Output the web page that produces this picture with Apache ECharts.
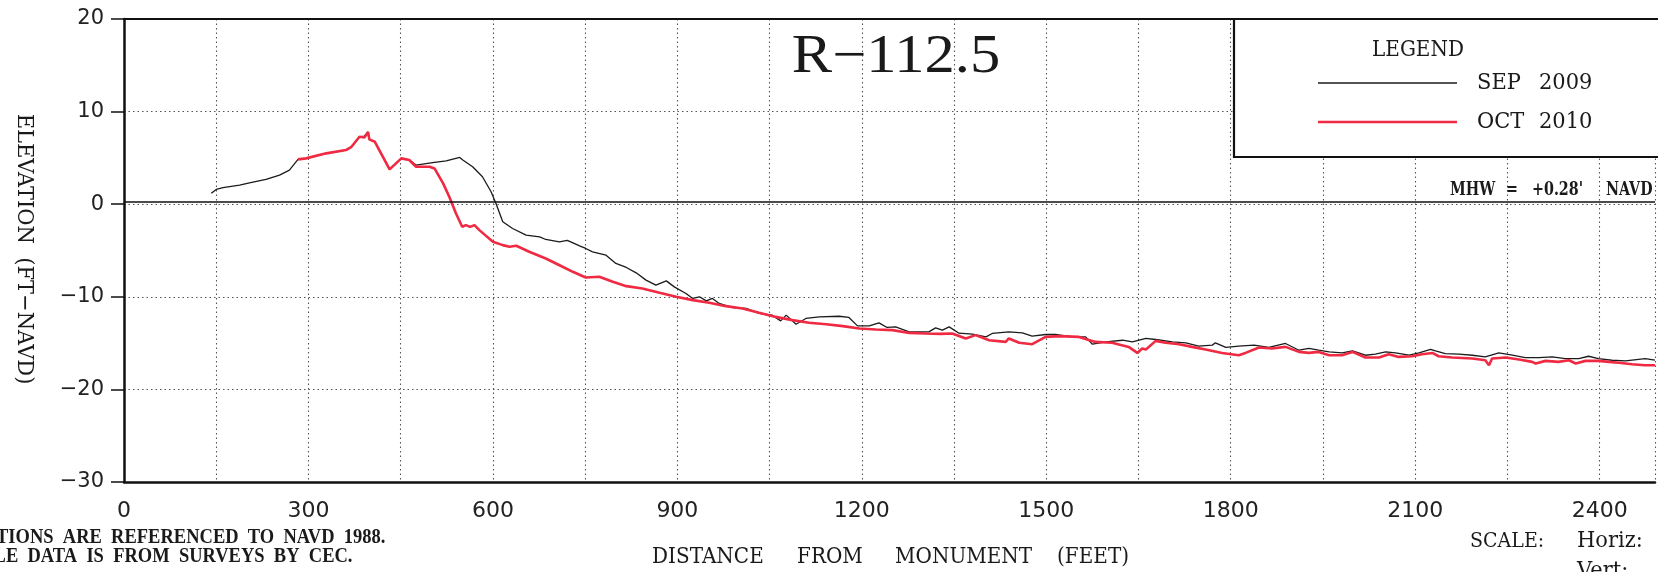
<!DOCTYPE html>
<html><head><meta charset="utf-8">
<script src="https://cdn.jsdelivr.net/npm/echarts@6/dist/echarts.min.js"></script>
<style>html,body{margin:0;padding:0;background:#fff}#c{width:1658px;height:572px}</style>
</head><body><div id="c"></div>
<script>
// ---- data ----
const sep2009Dist = [142,150,161,188,204,231,253,269,283,296,329,361,370,383,391,397,399,408,432,451,464,475,502,524,546,551,567,583,597,605,616,632,654,676,686,708,721,741,751,762,784,800,817,833,849,865,882,895,914,925,936,947,957,968,990,1012,1033,1054,1068,1077,1093,1109,1131,1163,1179,1193,1212,1228,1241,1255,1277,1309,1320,1331,1342,1358,1380,1402,1412,1439,1461,1477,1499,1515,1542,1564,1575,1597,1624,1640,1662,1678,1705,1727,1748,1770,1775,1792,1813,1838,1862,1889,1911,1927,1943,1960,1981,1998,2019,2035,2052,2068,2090,2106,2125,2133,2149,2171,2193,2214,2236,2258,2279,2301,2323,2344,2366,2382,2398,2420,2442,2474,2490];
const sep2009Elev = [1.17,1.6,1.8,2.06,2.3,2.68,3.14,3.68,4.84,4.95,5.49,5.85,6.2,7.28,7.36,7.79,7.0,6.74,3.76,4.95,4.77,4.23,4.48,4.69,5.05,4.77,4.04,2.96,1.34,0.08,-1.9,-2.62,-3.34,-3.52,-3.81,-4.06,-3.9,-4.5,-4.78,-5.14,-5.5,-6.4,-6.83,-7.41,-8.2,-8.74,-8.28,-8.93,-9.64,-10.18,-10.0,-10.44,-10.18,-10.72,-11.16,-11.26,-11.8,-11.98,-12.6,-11.98,-12.96,-12.34,-12.17,-12.1,-12.23,-13.14,-13.14,-12.81,-13.31,-13.25,-13.79,-13.79,-13.36,-13.6,-13.25,-13.93,-14.04,-14.33,-13.96,-13.79,-13.9,-14.25,-14.07,-14.07,-14.33,-14.33,-15.12,-14.87,-14.69,-14.87,-14.5,-14.61,-14.87,-14.97,-15.33,-15.22,-14.97,-15.47,-15.33,-15.22,-15.47,-15.04,-15.77,-15.58,-15.77,-15.95,-16.06,-15.84,-16.31,-16.2,-15.95,-16.06,-16.31,-16.06,-15.69,-15.84,-16.13,-16.2,-16.31,-16.49,-16.06,-16.31,-16.56,-16.56,-16.49,-16.67,-16.67,-16.42,-16.67,-16.85,-16.92,-16.67,-16.85];
const oct2010Dist = [283,296,329,361,370,383,391,397,399,408,432,451,464,475,497,505,519,529,540,550,556,563,570,578,600,616,627,638,659,686,710,730,751,773,795,817,843,871,898,925,952,979,1006,1033,1060,1087,1114,1142,1169,1196,1223,1250,1277,1304,1328,1347,1369,1385,1407,1434,1439,1456,1477,1499,1521,1553,1580,1607,1634,1648,1656,1662,1678,1694,1716,1737,1759,1786,1813,1824,1846,1867,1889,1911,1927,1943,1960,1981,1998,2019,2041,2057,2073,2095,2111,2128,2138,2160,2193,2214,2220,2225,2247,2269,2290,2296,2312,2333,2350,2361,2377,2398,2415,2431,2453,2474,2490];
const oct2010Elev = [4.84,4.95,5.49,5.85,6.2,7.28,7.2,7.79,7.0,6.74,3.76,4.95,4.77,4.04,4.04,3.86,2.25,0.8,-1.0,-2.44,-2.26,-2.45,-2.26,-2.8,-4.06,-4.42,-4.6,-4.49,-5.14,-5.86,-6.65,-7.3,-7.91,-7.84,-8.38,-8.85,-9.1,-9.57,-10.0,-10.36,-10.65,-11.01,-11.26,-11.73,-12.17,-12.52,-12.81,-12.96,-13.17,-13.42,-13.53,-13.6,-13.9,-13.96,-14.0,-13.96,-14.5,-14.14,-14.69,-14.87,-14.5,-14.97,-15.12,-14.33,-14.25,-14.33,-14.87,-14.97,-15.41,-16.06,-15.58,-15.69,-14.76,-14.97,-15.12,-15.41,-15.69,-16.06,-16.31,-16.06,-15.47,-15.58,-15.41,-15.95,-16.06,-15.95,-16.31,-16.31,-15.95,-16.56,-16.56,-16.2,-16.49,-16.42,-16.2,-16.06,-16.42,-16.56,-16.67,-16.85,-17.39,-16.67,-16.56,-16.78,-17.03,-17.2,-16.92,-17.03,-16.85,-17.2,-16.92,-16.92,-17.03,-17.13,-17.28,-17.39,-17.39];
const mhwElev = 0.28;
const xRange = [0, 2490];
const yRange = [-30, 20];
const xTickStep = 150;   // grid spacing
const xLabelStep = 300;  // labelled ticks
const yTickStep = 10;

// ---- chart ----
const chart = echarts.init(document.getElementById('c'), null, {renderer: 'canvas'});
const pair = (d, e) => d.map((x, i) => [x, e[i]]);
const dotted = {color: '#555', width: 1.1, type: [1.5, 3]};
const serif = 'DejaVu Serif';
const redColor = '#ef2a42';
function txt(x, y, text, font, align, extra) {
  return Object.assign({
    type: 'text', x: x, y: y, z: 120,
    style: {text: text, font: font, fill: '#1a1a1a',
      textAlign: align || 'left', align: align || 'left',
      textVerticalAlign: 'middle', verticalAlign: 'middle'}
  }, extra || {});
}

const option = {
  animation: false,
  backgroundColor: '#fff',
  grid: {left: 124, right: 2, top: 19, bottom: 90},
  xAxis: [{
    type: 'value', min: xRange[0], max: xRange[1], interval: xTickStep,
    axisLine: {show: true, onZero: false, lineStyle: {color: '#111', width: 2.5}},
    axisTick: {show: false},
    axisLabel: {formatter: v => (v % xLabelStep === 0 ? String(v) : ''),
      fontFamily: 'DejaVu Sans', fontSize: 22, color: '#222', margin: 18},
    splitLine: {show: true, lineStyle: dotted}
  }, {
    type: 'value', position: 'top', min: xRange[0], max: xRange[1],
    axisLine: {show: true, onZero: false, lineStyle: {color: '#111', width: 2}},
    axisTick: {show: false}, axisLabel: {show: false}, splitLine: {show: false}
  }],
  yAxis: {
    type: 'value', min: yRange[0], max: yRange[1], interval: yTickStep,
    axisLine: {show: true, onZero: false, lineStyle: {color: '#111', width: 2.5}},
    axisTick: {show: true, length: 13, lineStyle: {color: '#111', width: 1.5}},
    axisLabel: {formatter: v => String(v).replace('-', '\u2212'),
      fontFamily: 'DejaVu Sans', fontSize: 21, color: '#222', margin: 20},
    splitLine: {show: true, lineStyle: dotted}
  },
  series: [{
    type: 'line', name: 'SEP 2009', data: pair(sep2009Dist, sep2009Elev),
    symbol: 'none', showSymbol: false, z: 3,
    lineStyle: {color: '#1b1b1b', width: 1.3},
    markLine: {silent: true, symbol: 'none', label: {show: false},
      lineStyle: {color: '#111', width: 1.6, type: 'solid'},
      data: [{yAxis: mhwElev}]}
  }, {
    type: 'line', name: 'OCT 2010', data: pair(oct2010Dist, oct2010Elev),
    symbol: 'none', showSymbol: false, z: 4,
    lineStyle: {color: redColor, width: 2.6}
  }],
  graphic: [
    // legend box
    {type: 'rect', z: 100, shape: {x: 1234, y: 19, width: 500, height: 138},
      style: {fill: '#fff', stroke: '#111', lineWidth: 2.2}},
    txt(1418, 50, 'LEGEND', '20px ' + serif, 'center', {scaleY: 1.12}),
    {type: 'line', z: 120, shape: {x1: 1318, y1: 83, x2: 1457, y2: 83},
      style: {stroke: '#1b1b1b', lineWidth: 1.3}},
    {type: 'line', z: 120, shape: {x1: 1318, y1: 122, x2: 1457, y2: 122},
      style: {stroke: redColor, lineWidth: 2.6}},
    txt(1477, 83, 'SEP', '21px ' + serif, 'left', {scaleY: 1.08}),
    txt(1539, 83, '2009', '21px ' + serif, 'left', {scaleY: 1.08}),
    txt(1477, 122, 'OCT', '21px ' + serif, 'left', {scaleY: 1.08}),
    txt(1539, 122, '2010', '21px ' + serif, 'left', {scaleY: 1.08}),
    // title
    txt(896, 58, 'R\u2212112.5', '54px "Liberation Serif"', 'center', {scaleX: 1.12}),
    // MHW note
    txt(1450, 190, 'MHW', 'bold 17px ' + serif, 'left', {scaleX: 0.84, scaleY: 1.1}),
    txt(1512, 190, '=', 'bold 17px ' + serif, 'center', {scaleX: 0.84, scaleY: 1.1}),
    txt(1532, 190, "+0.28'", 'bold 17px ' + serif, 'left', {scaleX: 0.84, scaleY: 1.1}),
    txt(1606, 190, 'NAVD', 'bold 17px ' + serif, 'left', {scaleX: 0.84, scaleY: 1.1}),
    // axis names
    txt(24, 249, 'ELEVATION  (FT\u2212NAVD)', '21px ' + serif, 'center', {rotation: -Math.PI / 2, scaleY: 1.1}),
    txt(652, 557, 'DISTANCE', '20px ' + serif, 'left', {scaleY: 1.12}),
    txt(797, 557, 'FROM', '20px ' + serif, 'left', {scaleY: 1.12}),
    txt(895, 557, 'MONUMENT', '20px ' + serif, 'left', {scaleY: 1.12}),
    txt(1057, 557, '(FEET)', '20px ' + serif, 'left', {scaleY: 1.12}),
    // notes (cut at the left edge, as in the reference)
    txt(-64, 538, 'ELEVATIONS  ARE  REFERENCED  TO  NAVD  1988.', 'bold 18.5px "Liberation Serif"', 'left', {scaleY: 1.1}),
    txt(-64, 557, 'PROFILE  DATA  IS  FROM  SURVEYS  BY  CEC.', 'bold 18.5px "Liberation Serif"', 'left', {scaleY: 1.1}),
    txt(1470, 541, 'SCALE:', '19px ' + serif, 'left', {scaleY: 1.12}),
    txt(1577, 541, 'Horiz:', '21px ' + serif, 'left', {scaleY: 1.08}),
    txt(1577, 571, 'Vert:', '21px ' + serif, 'left', {scaleY: 1.08})
  ]
};
chart.setOption(option);
</script>
</body></html>
